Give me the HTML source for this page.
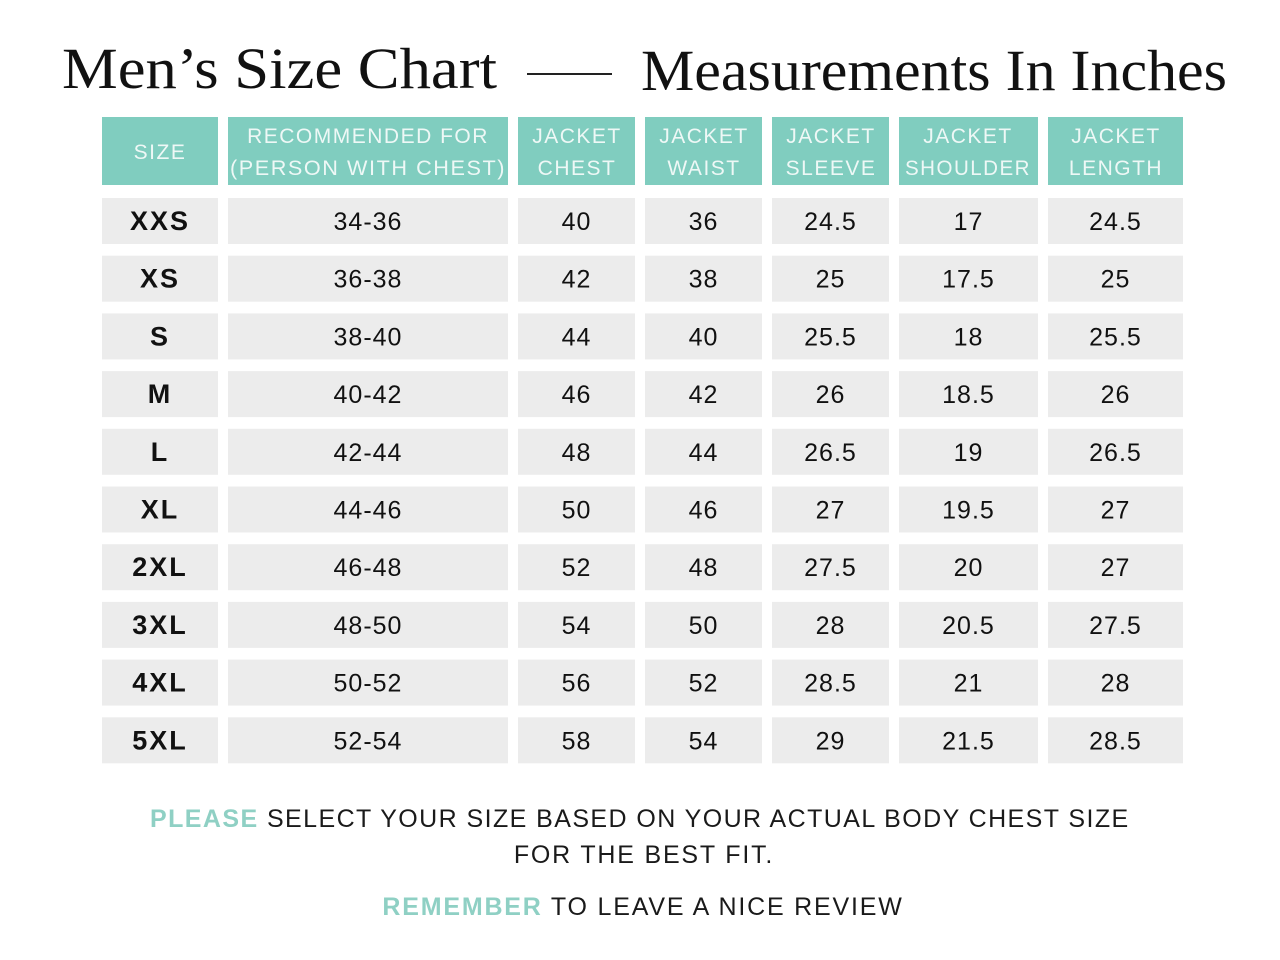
<!DOCTYPE html>
<html><head><meta charset="utf-8"><style>
html,body{margin:0;padding:0;background:#fff;width:1280px;height:960px;overflow:hidden}
</style></head><body>
<svg width="1280" height="960" xmlns="http://www.w3.org/2000/svg">
<rect width="1280" height="960" fill="#fff"/>
<g font-family="Liberation Serif, serif" fill="#111" font-size="58">
<text x="62" y="88" textLength="435" lengthAdjust="spacingAndGlyphs">Men’s Size Chart</text>
<text x="641" y="90" textLength="586" lengthAdjust="spacingAndGlyphs">Measurements In Inches</text>
</g>
<rect x="527" y="73" width="85" height="2" fill="#222"/>
<g fill="#80cdbf">
<rect x="102" y="117" width="116" height="68"/>
<rect x="228" y="117" width="280" height="68"/>
<rect x="518" y="117" width="117" height="68"/>
<rect x="645" y="117" width="117" height="68"/>
<rect x="772" y="117" width="117" height="68"/>
<rect x="899" y="117" width="139" height="68"/>
<rect x="1048" y="117" width="135" height="68"/>
</g>
<g font-family="Liberation Sans, sans-serif" font-size="21" fill="#eef8f6" text-anchor="middle" letter-spacing="1.5">
<text x="160" y="159">SIZE</text>
<text x="368" y="143">RECOMMENDED FOR</text>
<text x="368" y="175" textLength="276" lengthAdjust="spacingAndGlyphs">(PERSON WITH CHEST)</text>
<text x="577" y="143">JACKET</text><text x="577" y="175">CHEST</text>
<text x="704" y="143">JACKET</text><text x="704" y="175">WAIST</text>
<text x="831" y="143">JACKET</text><text x="831" y="175">SLEEVE</text>
<text x="968" y="143">JACKET</text><text x="968" y="175" textLength="126" lengthAdjust="spacingAndGlyphs">SHOULDER</text>
<text x="1116" y="143">JACKET</text><text x="1116" y="175">LENGTH</text>
</g>
<g id="rows" font-family="Liberation Sans, sans-serif" font-size="25" fill="#111" text-anchor="middle" letter-spacing="1"></g>
<g font-family="Liberation Sans, sans-serif" font-size="25" letter-spacing="1.8">
<text x="150" y="827" textLength="980" lengthAdjust="spacing"><tspan fill="#8fd0c4" font-weight="bold">PLEASE</tspan><tspan fill="#1a1a1a"> SELECT YOUR SIZE BASED ON YOUR ACTUAL BODY CHEST SIZE</tspan></text>
<text x="644" y="863" fill="#1a1a1a" text-anchor="middle">FOR THE BEST FIT.</text>
<text x="643" y="915" text-anchor="middle"><tspan fill="#8fd0c4" font-weight="bold">REMEMBER</tspan><tspan fill="#1a1a1a"> TO LEAVE A NICE REVIEW</tspan></text>
</g>
</svg>
<script>
var data=[["XXS","34-36","40","36","24.5","17","24.5"],["XS","36-38","42","38","25","17.5","25"],["S","38-40","44","40","25.5","18","25.5"],["M","40-42","46","42","26","18.5","26"],["L","42-44","48","44","26.5","19","26.5"],["XL","44-46","50","46","27","19.5","27"],["2XL","46-48","52","48","27.5","20","27"],["3XL","48-50","54","50","28","20.5","27.5"],["4XL","50-52","56","52","28.5","21","28"],["5XL","52-54","58","54","29","21.5","28.5"]];
var cols=[[102,116],[228,280],[518,117],[645,117],[772,117],[899,139],[1048,135]];
var g=document.getElementById("rows"),h="";
data.forEach(function(r,i){var y=198+57.7*i;
cols.forEach(function(c,j){
h+='<rect x="'+c[0]+'" y="'+y.toFixed(1)+'" width="'+c[1]+'" height="46" fill="#ececec"/>';
h+='<text x="'+(c[0]+c[1]/2)+'" y="'+(y+32).toFixed(1)+'"'+(j==0?' font-weight="bold" font-size="27" letter-spacing="2"':'')+'>'+r[j]+'</text>';});});
g.innerHTML=h;
</script>
</body></html>
